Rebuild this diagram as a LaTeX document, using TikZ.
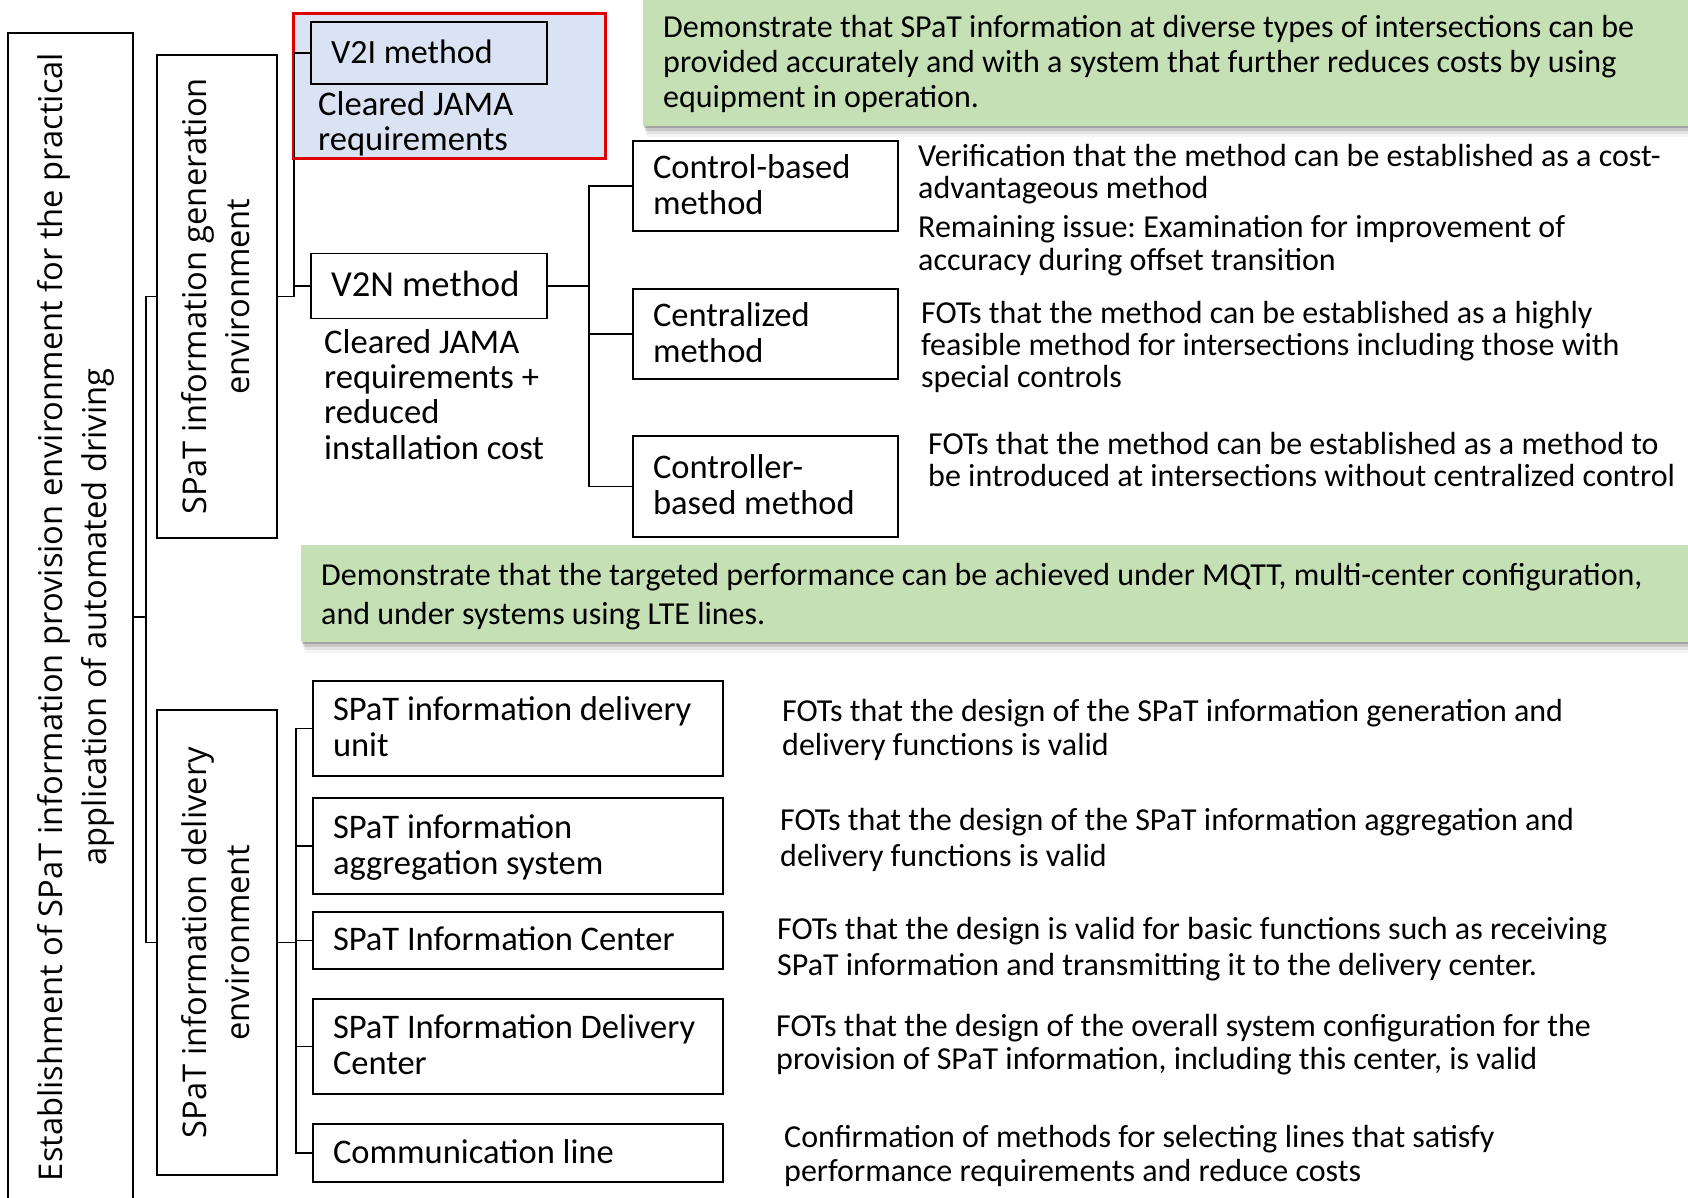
\documentclass[tikz,border=0pt]{standalone}
\usepackage{fontspec}
\setmainfont{Carlito}
\newfontfamily\vfont{Open Sans}
\usetikzlibrary{shadows}
\definecolor{gfill}{HTML}{C5E0B4}
\definecolor{bfill}{HTML}{DAE3F3}
\definecolor{rline}{HTML}{E00000}
\frenchspacing

% line struts: height and depth add up to one baselineskip
\newcommand\bs{\rule[-0.22\baselineskip]{0pt}{\baselineskip}}
\newcommand\vs{\rule[-0.25\baselineskip]{0pt}{\baselineskip}}
\newcommand\os{\rule[-0.18\baselineskip]{0pt}{\baselineskip}}

\tikzset{
  softshadow/.style={
    drop shadow={shadow xshift=1pt, shadow yshift=-2pt, opacity=0.18, fill=black},
    drop shadow={shadow xshift=2pt, shadow yshift=-5pt, opacity=0.12, fill=black},
    drop shadow={shadow xshift=3pt, shadow yshift=-8pt, opacity=0.07, fill=black},
    drop shadow={shadow xshift=4pt, shadow yshift=-11pt, opacity=0.04, fill=black}},
  box/.style={draw=black, line width=1.8pt, rectangle, inner xsep=20pt, inner ysep=0pt,
    align=flush left, font=\fontsize{34.5}{36}\selectfont},
  vbox/.style={draw=black, line width=1.8pt, rectangle, rotate=90, inner sep=0pt,
    align=center, font=\vfont\fontsize{32.7}{43}\selectfont},
  conn/.style={draw=black, line width=1.2pt},
  note/.style={anchor=north west, inner sep=0pt, align=left, font=\fontsize{34.6}{34}\selectfont},
  desc/.style={anchor=north west, inner sep=0pt, align=left},
  greenbox/.style={fill=gfill, anchor=north west, inner xsep=20pt, inner ysep=0pt,
    align=flush left, softshadow}
}

\begin{document}
\begin{tikzpicture}[x=1pt, y=-1pt]
\useasboundingbox (0,0) rectangle (1688,1198);
\clip (0,0) rectangle (1688,1198);
\fill[white] (0,0) rectangle (1688,1198);

% goal statements
\node[greenbox, text width=1017pt, minimum height=126pt,
      font=\fontsize{32}{35}\selectfont] (g1) at (643,0)
  {\bs Demonstrate that SPaT information at diverse types of intersections can be\\
   \bs provided accurately and with a system that further reduces costs by using\\
   \bs equipment in operation.};
\node[greenbox, text width=1360pt, minimum height=97pt,
      font=\fontsize{32}{39}\selectfont] (g2) at (301,545)
  {\bs Demonstrate that the targeted performance can be achieved under MQTT, multi-center configuration,\\
   \bs and under systems using LTE lines.};

% highlighted V2I group
\node[draw=rline, fill=bfill, line width=2.2pt, minimum width=311pt, minimum height=144pt,
      inner sep=0pt] (rb) at (449.5,86) {};

% left column
\node[vbox, minimum width=1168pt, minimum height=125pt] (outer) at (70.5,617)
  {\os Establishment of SPaT information provision environment for the practical\\
   \os application of automated driving};
\node[vbox, minimum width=483pt, minimum height=120pt] (gen) at (217,296.5)
  {\vs SPaT information generation\\ \vs environment};
\node[vbox, minimum width=465pt, minimum height=120pt] (del) at (217,942.5)
  {\vs SPaT information delivery\\ \vs environment};

% generation methods
\node[box, text width=196pt, minimum height=62pt, font=\fontsize{34}{36}\selectfont] (v2i) at (429,53)
  {\bs V2I method};
\node[note] (n1) at (318,91.4) {\strut Cleared JAMA\\ \strut requirements};
\node[box, text width=196pt, minimum height=65pt, font=\fontsize{36.6}{36}\selectfont] (v2n) at (429,286)
  {\bs V2N method};
\node[note] (n2) at (324,329.4)
  {\strut Cleared JAMA\\ \strut requirements +\\ \strut reduced\\ \strut installation cost};

\node[box, text width=225pt, minimum height=90pt] (cb) at (765.5,186) {\bs Control-based\\ \bs method};
\node[box, text width=225pt, minimum height=90pt] (cz) at (765.5,334) {\bs Centralized\\ \bs method};
\node[box, text width=225pt, minimum height=101pt] (ct) at (765.5,486.5) {\bs Controller-\\ \bs based method};

\node[desc, font=\fontsize{32}{32}\selectfont] (d1a) at (918,144.1)
  {\strut Verification that the method can be established as a cost-\\ \strut advantageous method};
\node[desc, font=\fontsize{32}{33}\selectfont] (d1b) at (918,214.4)
  {\strut Remaining issue: Examination for improvement of\\ \strut accuracy during offset transition};
\node[desc, font=\fontsize{32}{32}\selectfont] (d2) at (921,301.1)
  {\strut FOTs that the method can be established as a highly\\
   \strut feasible method for intersections including those with\\ \strut special controls};
\node[desc, font=\fontsize{32}{32}\selectfont] (d3) at (928,432.1)
  {\strut FOTs that the method can be established as a method to\\
   \strut be introduced at intersections without centralized control};

% delivery components
\node[box, text width=370pt, minimum height=95pt] (du) at (518,728.5)
  {\bs SPaT information delivery\\ \bs unit};
\node[box, text width=370pt, minimum height=96pt] (da) at (518,846)
  {\bs SPaT information\\ \bs aggregation system};
\node[box, text width=370pt, minimum height=57pt] (dc) at (518,940.5)
  {\bs SPaT Information Center};
\node[box, text width=370pt, minimum height=95pt] (dd) at (518,1046.5)
  {\bs SPaT Information Delivery\\ \bs Center};
\node[box, text width=370pt, minimum height=58pt] (dl) at (518,1153)
  {\bs Communication line};

\node[desc, font=\fontsize{32}{34}\selectfont] (e1) at (782,697.7)
  {\strut FOTs that the design of the SPaT information generation and\\ \strut delivery functions is valid};
\node[desc, font=\fontsize{32}{36}\selectfont] (e2) at (780,805.3)
  {\strut FOTs that the design of the SPaT information aggregation and\\ \strut delivery functions is valid};
\node[desc, font=\fontsize{32}{36}\selectfont] (e3) at (777,914.3)
  {\strut FOTs that the design is valid for basic functions such as receiving\\
   \strut SPaT information and transmitting it to the delivery center.};
\node[desc, font=\fontsize{32}{33}\selectfont] (e4) at (776,1013.4)
  {\strut FOTs that the design of the overall system configuration for the\\
   \strut provision of SPaT information, including this center, is valid};
\node[desc, font=\fontsize{32}{34}\selectfont] (e5) at (784,1123.7)
  {\strut Confirmation of methods for selecting lines that satisfy\\
   \strut performance requirements and reduce costs};

% junction points of the tree
\coordinate (tk) at (146,617);
\coordinate (gj) at (294,296.5);
\coordinate (vj) at (589,286);
\coordinate (dj) at (296,942.5);

% connectors
\draw[conn] (outer.south) -- (tk);
\draw[conn] (gen.north) -| (tk) |- (del.north);
\draw[conn] (gen.south) -- (gj);
\draw[conn] (gj) |- (v2i.west);
\draw[conn] (gj) |- (v2n.west);
\draw[conn] (v2n.east) -- (vj);
\draw[conn] (vj) |- (cb.west);
\draw[conn] (vj) |- (cz.west);
\draw[conn] (vj) |- (ct.west);
\draw[conn] (del.south) -- (dj);
\draw[conn] (dj) |- (du.west);
\draw[conn] (dj) |- (da.west);
\draw[conn] (dj) |- (dc.west);
\draw[conn] (dj) |- (dd.west);
\draw[conn] (dj) |- (dl.west);

% frame of the highlighted group on top
\draw[rline, line width=2.2pt] (rb.south west) rectangle (rb.north east);
\end{tikzpicture}
\end{document}
